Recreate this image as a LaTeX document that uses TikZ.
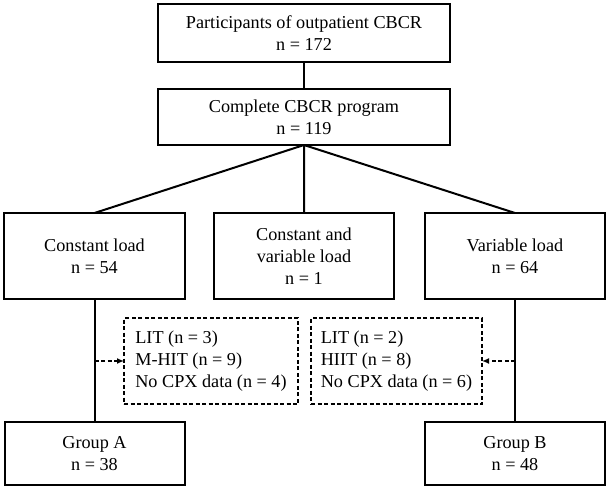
\documentclass[tikz,border=0pt]{standalone}
\usepackage{fontspec}
\setmainfont{Liberation Serif}
\usetikzlibrary{positioning, arrows.meta}
\tikzset{
x=1pt, y=-1pt, % one unit is one pixel of the page, y runs down
node distance=27pt, % gap between stacked boxes
every node/.style={outer sep=0pt, font=\fontsize{18.2}{22}\selectfont},
box/.style={draw, line width=2pt, align=center, inner sep=0pt}, % solid boxes
exbox/.style={draw, line width=2pt, dash pattern=on 4pt off 2.5pt, align=left, inner sep=0pt}, % excluded ones
link/.style={line width=2pt}, % plain connector
exarrow/.style={line width=2pt, dash pattern=on 4pt off 2.5pt, -{Latex[length=7pt,width=6pt]}}, % dashed arrow
}

\begin{document}
\begin{tikzpicture}
\useasboundingbox (0,0) rectangle (608,490);

\node[box, minimum width=292pt, minimum height=58pt] (all) at (304,33) {Participants of outpatient CBCR\\n = 172};
\node[box, minimum width=292pt, minimum height=56pt, below=of all] (done) {Complete CBCR program\\n = 119};

\node[box, minimum width=180pt, minimum height=86pt, below=68pt of done] (mixed) {Constant and\\variable load\\n = 1};
\node[box, minimum width=181pt, minimum height=86pt, left=29pt of mixed] (const) {Constant load\\n = 54};
\node[box, minimum width=180pt, minimum height=86pt, right=31pt of mixed] (var) {Variable load\\n = 64};

\node[exbox, minimum width=174pt, minimum height=86pt] (exA) at (211,361) {LIT (n = 3)\\M-HIT (n = 9)\\No CPX data (n = 4)};
\node[exbox, minimum width=171pt, minimum height=86pt] (exB) at (396.5,361) {LIT (n = 2)\\HIIT (n = 8)\\No CPX data (n = 6)};

\node[box, minimum width=180pt, minimum height=63pt, below=123pt of const] (grpA) {Group A\\n = 38};
\node[box, minimum width=180pt, minimum height=63pt, below=123pt of var] (grpB) {Group B\\n = 48};

\draw[link] (all) -- (done);
\draw[link] (done.south) -- (const.north)
            (done.south) -- (mixed.north)
            (done.south) -- (var.north);
\draw[link] (const) -- (grpA);
\draw[link] (var) -- (grpB);

\draw[exarrow] (const.south |- exA.west) -- (exA.west);
\draw[exarrow] (var.south |- exB.east) -- (exB.east);
\end{tikzpicture}
\end{document}
